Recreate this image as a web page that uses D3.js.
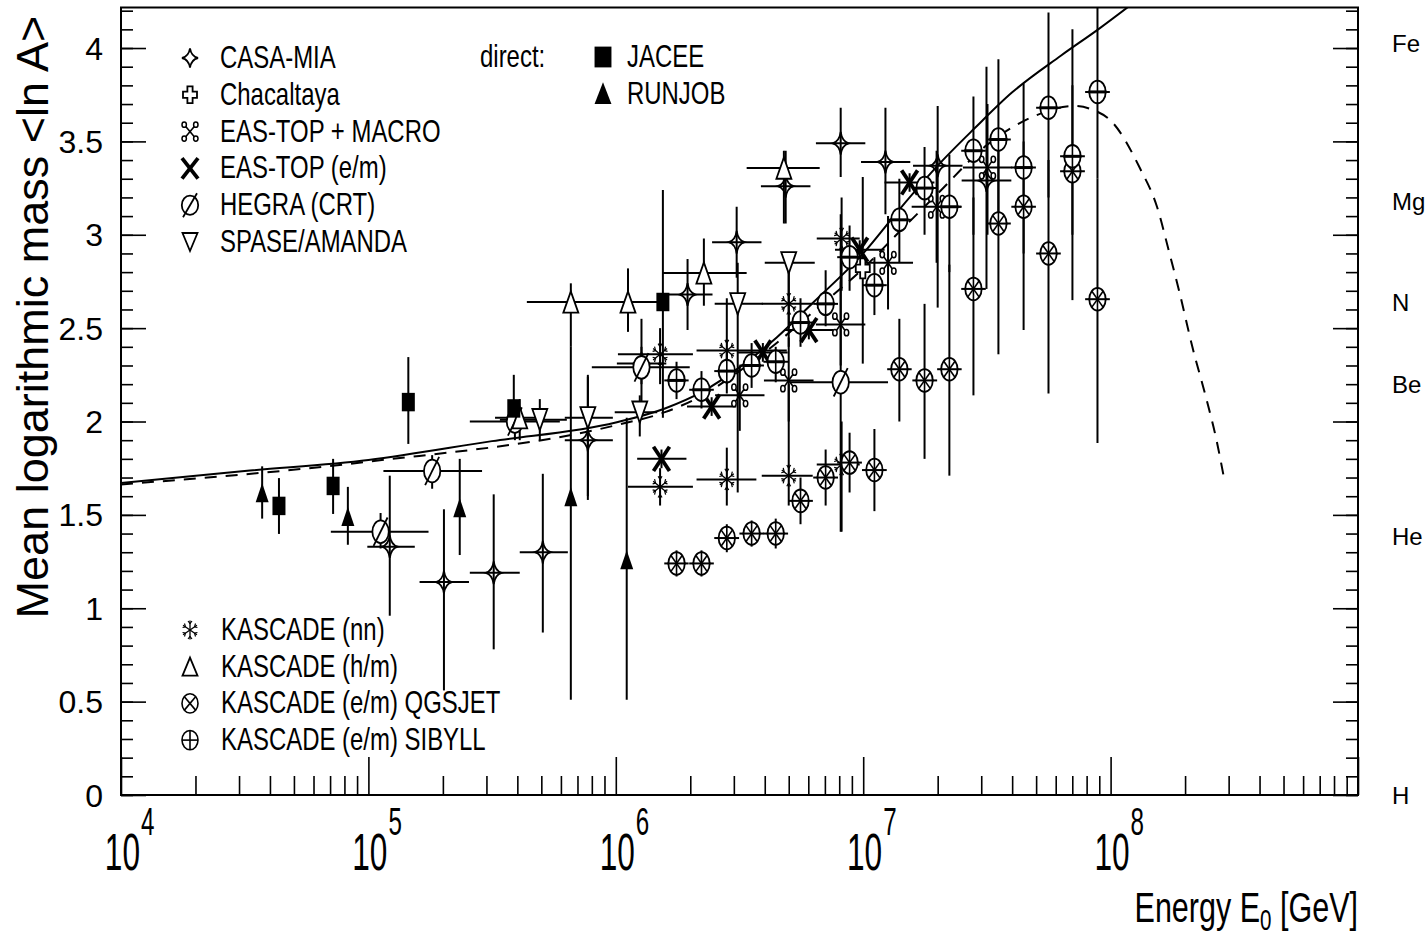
<!DOCTYPE html>
<html><head><meta charset="utf-8">
<script src="https://cdn.jsdelivr.net/npm/d3@7"></script>
<style>body{margin:0;background:#fff}svg{display:block}</style>
</head><body>
<svg id="c" width="1425" height="938"></svg>
<script>
// ---------- DATA (E in GeV, <lnA>, lnA low, lnA high, E low, E high) ----------
const xExponents = [4,5,6,7,8];
const yTicks = [0,0.5,1,1.5,2,2.5,3,3.5,4];
const elements = [["Fe",4.025],["Mg",3.178],["N",2.639],["Be",2.197],["He",1.386],["H",0]];

const casaMia = [
 [1.22e5,1.33,0.96,1.71,9.9e4,1.54e5],[2.02e5,1.14,0.56,1.53,1.61e5,2.55e5],
 [3.21e5,1.19,0.78,1.61,2.57e5,4.09e5],[5.07e5,1.30,0.87,1.72,4.09e5,6.4e5],
 [7.71e5,1.90,1.58,2.24,6.22e5,9.73e5],[1.27e6,2.31,2.10,2.55,1.01e6,1.6e6],
 [1.95e6,2.68,2.49,2.87,1.55e6,2.46e6],[3.08e6,2.96,2.77,3.15,2.45e6,3.88e6],
 [4.86e6,3.26,3.06,3.45,3.86e6,6.12e6],[8.11e6,3.49,3.31,3.68,6.44e6,1.02e7],
 [1.23e7,3.39,3.11,3.68,9.8e6,1.55e7],[2.0e7,3.37,2.61,3.69,1.59e7,2.52e7],
 [3.15e7,3.29,2.71,3.90,2.5e7,3.97e7]];
const chacaltaya = [[9.96e6,2.82,2.31,3.31,null,null]];
const easTopMacro = [
 [3.17e6,2.14,1.95,2.30,2.52e6,3.99e6],[5.0e6,2.22,2.0,2.45,3.97e6,6.3e6],
 [8.11e6,2.52,2.3,2.75,6.44e6,1.02e7],[1.26e7,2.85,2.6,3.1,1.0e7,1.59e7],
 [1.98e7,3.15,2.85,3.45,1.57e7,2.49e7],[3.18e7,3.36,3.0,3.7,2.53e7,4.0e7]];
const easTop = [
 [1.53e6,1.80,1.75,1.85,1.22e6,1.93e6],[2.44e6,2.08,2.03,2.13,1.94e6,3.07e6],
 [3.93e6,2.37,2.32,2.42,3.12e6,4.95e6],[6.03e6,2.49,2.44,2.54,4.79e6,7.59e6],
 [9.68e6,2.92,2.87,2.97,7.69e6,1.22e7],[1.54e7,3.28,3.23,3.33,1.22e7,1.94e7]];
const hegra = [
 [1.12e5,1.41,1.32,1.51,7.05e4,1.75e5],[1.81e5,1.735,1.64,1.82,1.15e5,2.88e5],
 [3.91e5,2.00,1.9,2.1,2.57e5,5.94e5],[1.27e6,2.29,2.2,2.4,8.0e5,1.99e6],
 [8.11e6,2.21,1.41,3.11,5.05e6,1.26e7]];
const spase = [
 [4.93e5,2.01,1.9,2.12,3.4e5,6.34e5],[7.71e5,2.02,1.6,2.25,6.22e5,9.73e5],
 [1.25e6,2.05,1.92,2.14,9.9e5,1.47e6],[3.11e6,2.63,1.62,2.85,2.51e6,3.93e6],
 [5.0e6,2.85,2.5,2.90,4.0e6,6.37e6]];
const kascadeNN = [
 [1.51e6,2.36,2.2,2.5,1.02e6,2.05e6],[2.81e6,2.38,2.2,2.66,2.12e6,4.91e6],
 [5.0e6,2.63,2.4,2.85,3.89e6,6.25e6],[8.18e6,2.98,2.7,3.2,6.49e6,9.68e6],
 [1.51e6,1.65,1.55,1.75,1.12e6,2.05e6],[2.81e6,1.69,1.55,1.86,2.12e6,3.7e6],
 [5.0e6,1.71,1.55,2.2,3.89e6,6.25e6],[8.18e6,1.77,1.41,2.0,6.49e6,9.68e6]];
const kascadeHM = [
 [4.09e5,2.02,1.9,2.12,3.25e5,5.15e5],[6.58e5,2.64,2.40,2.74,4.37e5,1.01e6],
 [1.12e6,2.64,2.48,2.82,7.36e5,1.47e6],[2.27e6,2.795,2.62,2.98,1.55e6,3.38e6],
 [4.78e6,3.357,3.06,3.45,3.38e6,6.67e6]];
const qgsjet = [
 [1.76e6,1.24,1.17,1.31,1.57e6,1.97e6],[2.22e6,1.24,1.17,1.31,1.98e6,2.49e6],
 [2.81e6,1.376,1.30,1.45,2.50e6,3.15e6],[3.54e6,1.40,1.33,1.47,3.16e6,3.97e6],
 [4.43e6,1.40,1.32,1.48,3.95e6,4.97e6],[5.58e6,1.575,1.45,1.70,4.97e6,6.26e6],
 [7.05e6,1.70,1.55,1.85,6.28e6,7.91e6],[8.81e6,1.78,1.62,1.94,7.85e6,9.88e6],
 [1.11e7,1.74,1.52,1.96,9.89e6,1.245e7],[1.40e7,2.28,2.0,2.55,1.25e7,1.57e7],
 [1.77e7,2.22,1.80,2.63,1.58e7,1.99e7],[2.23e7,2.28,1.71,2.84,1.99e7,2.50e7],
 [2.79e7,2.71,2.14,3.2,2.49e7,3.13e7],[3.52e7,3.06,2.36,3.5,3.14e7,3.95e7],
 [4.45e7,3.15,2.49,3.5,3.97e7,4.99e7],[5.61e7,2.90,2.15,3.4,5.0e7,6.29e7],
 [7.01e7,3.34,2.65,3.8,6.25e7,7.87e7],[8.85e7,2.655,1.885,3.3,7.89e7,9.93e7]];
const sibyll = [
 [1.76e6,2.22,2.12,2.32,1.57e6,1.97e6],[2.22e6,2.17,2.07,2.27,1.98e6,2.49e6],
 [2.81e6,2.27,2.15,2.39,2.50e6,3.15e6],[3.54e6,2.30,2.18,2.42,3.16e6,3.97e6],
 [4.43e6,2.32,2.21,2.40,3.95e6,4.97e6],[5.58e6,2.53,2.40,2.66,4.97e6,6.26e6],
 [7.05e6,2.63,2.51,2.81,6.28e6,7.91e6],[8.81e6,2.88,2.7,3.05,7.85e6,9.88e6],
 [1.11e7,2.73,2.57,2.88,9.89e6,1.245e7],[1.40e7,3.08,2.85,3.3,1.25e7,1.57e7],
 [1.77e7,3.25,3.0,3.47,1.58e7,1.99e7],[2.23e7,3.15,2.8,3.43,1.99e7,2.50e7],
 [2.79e7,3.45,3.0,3.74,2.49e7,3.13e7],[3.52e7,3.51,3.1,3.94,3.14e7,3.95e7],
 [4.45e7,3.36,2.9,3.81,3.97e7,4.99e7],[5.61e7,3.68,3.2,4.19,5.0e7,6.29e7],
 [7.01e7,3.42,3.0,4.10,6.25e7,7.87e7],[8.85e7,3.765,3.3,4.3,7.89e7,9.93e7]];
const jacee = [
 [4.35e4,1.548,1.398,1.697,null,null],[7.2e4,1.655,1.505,1.80,null,null],
 [1.45e5,2.104,1.88,2.345,null,null],[3.87e5,2.07,1.94,2.25,null,null],
 [1.55e6,2.64,2.02,3.24,null,null]];
const runjob = [
 [3.72e4,1.617,1.48,1.76,null,null],[8.26e4,1.49,1.34,1.65,null,null],
 [2.34e5,1.537,1.285,1.80,null,null],[6.58e5,1.596,0.51,2.40,null,null],
 [1.107e6,1.258,0.51,2.02,null,null]];
// model curves: [E, <lnA>]
const modelSolid = [[1e4,1.671],[3.16e4,1.735],[1e5,1.794],[3.16e5,1.895],[1e6,1.995],
 [1.58e6,2.07],[2.24e6,2.16],[3.16e6,2.29],[4.47e6,2.45],[6.31e6,2.64],[1e7,2.90],
 [1.41e7,3.14],[2.0e7,3.37],[2.82e7,3.57],[3.98e7,3.76],[6.31e7,3.96],[8.91e7,4.10],[1.26e8,4.25]];
const modelDashed = [[1e4,1.663],[1e5,1.785],[1e6,1.98],[1.58e6,2.05],[2.24e6,2.14],
 [3.16e6,2.27],[4.47e6,2.42],[6.31e6,2.59],[1e7,2.82],[1.41e7,3.02],[2.0e7,3.22],
 [3.16e7,3.48],[5.01e7,3.64],[7.08e7,3.69],[8.45e7,3.67],[1.02e8,3.60],[1.31e8,3.36],
 [1.54e8,3.15],[1.73e8,2.90],[1.90e8,2.69],[2.14e8,2.40],[2.44e8,2.12],[2.68e8,1.90],[2.88e8,1.69]];

const seriesList = [
 ["casa",casaMia],["chac",chacaltaya],["macro",easTopMacro],["eastop",easTop],
 ["hegra",hegra],["spase",spase],["nn",kascadeNN],["hm",kascadeHM],
 ["qgs",qgsjet],["sib",sibyll],["jacee",jacee],["runjob",runjob]];
const legendLeft = [["casa","CASA-MIA"],["chac","Chacaltaya"],["macro","EAS-TOP + MACRO"],
 ["eastop","EAS-TOP (e/m)"],["hegra","HEGRA (CRT)"],["spase","SPASE/AMANDA"]];
const legendDirect = [["jacee","JACEE"],["runjob","RUNJOB"]];
const legendBottom = [["nn","KASCADE (nn)"],["hm","KASCADE (h/m)"],
 ["qgs","KASCADE (e/m) QGSJET"],["sib","KASCADE (e/m) SIBYLL"]];

// ---------- LAYOUT ----------
const L=121,R=1358,T=7.5,B=795;
const REG = "'Liberation Sans',Arial,Helvetica,sans-serif";
const svg = d3.select("#c");
const x = d3.scaleLog().domain([1e4,1e9]).range([L,R]);
const y = d3.scaleLinear().domain([0,4.217]).range([B,T]);

svg.append("defs").append("clipPath").attr("id","clip")
  .append("rect").attr("x",L).attr("y",T).attr("width",R-L).attr("height",B-T);

function narrow(g,tx,ty,size,anchor,k){
  return g.append("text").attr("transform",`translate(${tx},${ty}) scale(${k||0.76},1)`)
    .attr("text-anchor",anchor||"start").attr("font-family",REG).attr("font-size",size);
}

// ---------- AXES ----------
const majorX = xExponents.map(e=>Math.pow(10,e)).concat([1e9]);
const minorX = [];
xExponents.forEach(e=>{ for(let m=2;m<10;m++) minorX.push(m*Math.pow(10,e)); });
function styleAxis(g){ g.select(".domain").remove(); g.selectAll("line").attr("stroke","#000").attr("stroke-width",1.6); g.selectAll("text").remove(); }
svg.append("g").attr("transform",`translate(0,${B})`).call(d3.axisBottom(x).tickValues(majorX).tickSize(-38).tickFormat("")).call(styleAxis);
svg.append("g").attr("transform",`translate(0,${B})`).call(d3.axisBottom(x).tickValues(minorX).tickSize(-19).tickFormat("")).call(styleAxis);
const minorY = d3.range(0,4.21,0.1);
svg.append("g").attr("transform",`translate(${R},0)`).call(d3.axisRight(y).tickValues(yTicks).tickSize(-25).tickFormat("")).call(styleAxis);
svg.append("g").attr("transform",`translate(${R},0)`).call(d3.axisRight(y).tickValues(minorY).tickSize(-12).tickFormat("")).call(styleAxis);
svg.append("g").attr("transform",`translate(${L},0)`).call(d3.axisLeft(y).tickValues(yTicks).tickSize(-25).tickFormat("")).call(styleAxis);
svg.append("g").attr("transform",`translate(${L},0)`).call(d3.axisLeft(y).tickValues(minorY).tickSize(-12).tickFormat("")).call(styleAxis);

// y tick labels
svg.append("g").selectAll("text").data(yTicks).join("text")
  .attr("x",103).attr("y",d=>y(d)).attr("dy","0.36em").attr("text-anchor","end")
  .attr("font-family",REG).attr("font-size",32).text(d=>d);
// y title
svg.append("text").attr("transform",`translate(48,${317}) rotate(-90)`).attr("text-anchor","middle")
  .attr("font-family",REG).attr("font-size",45).text("Mean logarithmic mass <ln A>");
// x tick labels 10^n
xExponents.forEach(e=>{
  const px = x(Math.pow(10,e));
  narrow(svg,px+19,870,51,"end",0.62).text("10");
  narrow(svg,px+20,835,39,"start",0.62).text(e);
});
// x title
const xt = narrow(svg,R,922,43,"end",0.71);
xt.append("tspan").text("Energy E");
xt.append("tspan").attr("font-size",29).attr("dy",8).text("0");
xt.append("tspan").attr("dy",-8).text(" [GeV]");
// element labels
svg.append("g").selectAll("text").data(elements).join("text")
  .attr("x",1392).attr("y",d=>y(d[1])).attr("dy","0.36em").attr("font-family",REG).attr("font-size",24).text(d=>d[0]);

// ---------- CURVES ----------
const line = d3.line().x(d=>x(d[0])).y(d=>y(d[1])).curve(d3.curveMonotoneX);
const cg = svg.append("g").attr("clip-path","url(#clip)");
cg.append("path").attr("d",line(modelDashed)).attr("fill","none").attr("stroke","#000").attr("stroke-width",2).attr("stroke-dasharray","12,9");
cg.append("path").attr("d",line(modelSolid)).attr("fill","none").attr("stroke","#000").attr("stroke-width",2);

// ---------- ERROR BARS ----------
const eg = svg.append("g").attr("clip-path","url(#clip)").attr("stroke","#000").attr("stroke-width",2);
seriesList.forEach(([k,data])=>{
  data.forEach(d=>{
    if(d[2]!=null) eg.append("line").attr("x1",x(d[0])).attr("x2",x(d[0])).attr("y1",y(d[2])).attr("y2",y(d[3]));
    if(d[4]!=null) eg.append("line").attr("x1",x(d[4])).attr("x2",x(d[5])).attr("y1",y(d[1])).attr("y2",y(d[1]));
  });
});

// ---------- MARKERS ----------
function marker(g,kind,cx,cy,sx,sy){
  const m=g.append("g").attr("transform",`translate(${cx},${cy}) scale(${sx},${sy})`);
  const S=(s,w)=>s.attr("stroke","#000").attr("stroke-width",w).attr("vector-effect","non-scaling-stroke");
  const ln=(x1,y1,x2,y2,w)=>S(m.append("line").attr("x1",x1).attr("y1",y1).attr("x2",x2).attr("y2",y2),w);
  const pth=(d,f,w)=>S(m.append("path").attr("d",d).attr("fill",f),w);
  const ell=(f)=>S(m.append("ellipse").attr("rx",8.2).attr("ry",8).attr("fill",f),1.8);
  switch(kind){
    case "casa": pth("M0,-8 Q1.3,-1.3 8,0 Q1.3,1.3 0,8 Q-1.3,1.3 -8,0 Q-1.3,-1.3 0,-8Z","none",1.8); break;
    case "chac": {const a=2.6,e=7; pth(`M${-a},${-e}H${a}V${-a}H${e}V${a}H${a}V${e}H${-a}V${a}H${-e}V${-a}H${-a}Z`,"#fff",1.8);} break;
    case "macro": ln(-4.5,-4.5,4.5,4.5,1.6); ln(4.5,-4.5,-4.5,4.5,1.6);
      [[-1,-1],[1,-1],[-1,1],[1,1]].forEach(([a,b])=>S(m.append("circle").attr("cx",a*5.8).attr("cy",b*5.8).attr("r",2.2).attr("fill","#fff"),1.5)); break;
    case "eastop": ln(-8,-8.5,8,8.5,3.8); ln(8,-8.5,-8,8.5,3.8); break;
    case "hegra": ell("#fff"); ln(-7,10,7,-10,1.8); break;
    case "spase": pth("M-7.5,-7.5L7.5,-7.5L0,7.5Z","#fff",1.8); break;
    case "hm": pth("M-7.5,7.5L7.5,7.5L0,-7.5Z","#fff",1.8); break;
    case "nn": [0,60,120].forEach(a=>{
        const r=a*Math.PI/180, c=Math.cos(r), s=Math.sin(r);
        ln(-8*s,-8*c,8*s,8*c,1.3);
        [-1,1].forEach(sg=>{ const bx=sg*5.2*s, by=sg*5.2*c;
          [-1,1].forEach(t=>{ const rr=r+t*0.7; ln(bx,by,bx+sg*3*Math.sin(rr),by+sg*3*Math.cos(rr),1.2); }); });
      }); break;
    case "qgs": ell("#fff"); ln(0,-8,0,8,1.6); ln(-5.6,-5.6,5.6,5.6,1.6); ln(5.6,-5.6,-5.6,5.6,1.6); ln(-9,0,9,0,2); break;
    case "qgsL": S(m.append("circle").attr("r",8).attr("fill","#fff"),1.6); ln(-5.6,-5.6,5.6,5.6,1.6); ln(5.6,-5.6,-5.6,5.6,1.6); break;
    case "sib": ell("#fff"); ln(0,-8,0,8,1.6); ln(-9,0,9,0,3); break;
    case "sibL": S(m.append("circle").attr("r",8).attr("fill","#fff"),1.6); ln(0,-8,0,8,1.6); ln(-8,0,8,0,1.6); break;
    case "jacee": m.append("rect").attr("x",-6.5).attr("y",-6.5).attr("width",13).attr("height",13).attr("fill","#000"); break;
    case "runjob": m.append("path").attr("d","M-6.5,6.5L6.5,6.5L0,-7Z").attr("fill","#000"); break;
  }
}
const mg = svg.append("g");
seriesList.forEach(([k,data])=>data.forEach(d=>marker(mg,k,x(d[0]),y(d[1]),1,1.42)));

// ---------- FRAME ----------
svg.append("rect").attr("x",L).attr("y",T).attr("width",R-L).attr("height",B-T).attr("fill","none").attr("stroke","#000").attr("stroke-width",2);

// ---------- LEGEND ----------
const lg = svg.append("g");
function legRow(k,label,mx,base,tx,sx,sy){
  marker(lg,k==="qgs"?"qgsL":k==="sib"?"sibL":k,mx,base-10,sx||1,sy||1.2);
  narrow(lg,tx,base,31.5,"start").text(label);
}
legendLeft.forEach((d,i)=>legRow(d[0],d[1],190,68+i*36.8,220));
legendDirect.forEach((d,i)=>legRow(d[0],d[1],603,67+i*36.5,627,1.3,1.6));
narrow(lg,480,67,31.5,"start").text("direct:");
legendBottom.forEach((d,i)=>legRow(d[0],d[1],190,640+i*36.7,221));
</script>
</body></html>
